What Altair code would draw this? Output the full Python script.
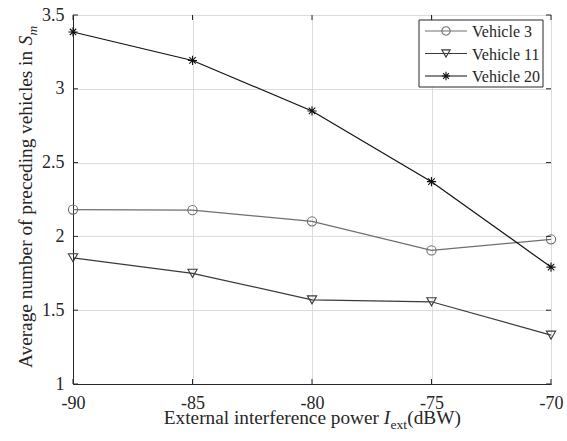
import altair as alt
import pandas as pd

# Data
power = [-90, -85, -80, -75, -70]
series_names = ["Vehicle 3", "Vehicle 11", "Vehicle 20"]
vehicle3 = [2.182, 2.178, 2.102, 1.905, 1.980]
vehicle11 = [1.855, 1.750, 1.570, 1.557, 1.331]
vehicle20 = [3.385, 3.192, 2.850, 2.371, 1.792]
series_values = [vehicle3, vehicle11, vehicle20]

x_ticks = [-90, -85, -80, -75, -70]
y_ticks = [1, 1.5, 2, 2.5, 3, 3.5]

# Styles
FONT = "Liberation Serif"
AX = "#262626"
GRID = "#dcdcdc"
colors = ["#6e6e6e", "#3a3a3a", "#111111"]
ASTERISK = "M0,-1L0,1M-1,0L1,0M-0.7,-0.7L0.7,0.7M-0.7,0.7L0.7,-0.7"
shapes = ["circle", "triangle-down", ASTERISK]
W, H = 478, 369
TICK_FS, TITLE_FS, SUB_FS, LEG_FS = 18, 19.3, 13.5, 16

rows = []
for name, vals in zip(series_names, series_values):
    for p, v in zip(power, vals):
        rows.append({"power": p, "value": v, "series": name})
df = pd.DataFrame(rows)

xs = alt.Scale(domain=[-90, -70], nice=False, zero=False)
ys = alt.Scale(domain=[1, 3.5], nice=False, zero=False)

base_x = alt.X(
    "power:Q", scale=xs,
    axis=alt.Axis(values=x_ticks, title=None, ticks=False, labelPadding=10,
                  grid=True, gridColor=GRID, labelFont=FONT, labelFontSize=TICK_FS,
                  labelColor=AX, domainColor=AX, labelFlush=False,
                  labelExpr="'' + datum.value"),
)
base_y = alt.Y(
    "value:Q", scale=ys,
    axis=alt.Axis(values=y_ticks, title=None, ticks=False, labelPadding=9,
                  grid=True, gridColor=GRID, labelFont=FONT, labelFontSize=TICK_FS,
                  labelColor=AX, domainColor=AX, labelFlush=False,
                  labelExpr="'' + datum.value"),
)

layers = []
for name, col, shp in zip(series_names, colors, shapes):
    sub = df[df.series == name]
    layers.append(
        alt.Chart(sub).mark_line(color=col, strokeWidth=1.2).encode(x=base_x, y=base_y)
    )
    layers.append(
        alt.Chart(sub).mark_point(shape=shp, size=85, filled=False, color=col,
                                  strokeWidth=1.1, opacity=1).encode(x="power:Q", y="value:Q")
    )

# Inward tick marks on all four sides of the box
ydf = pd.DataFrame({"value": y_ticks})
xdf = pd.DataFrame({"power": x_ticks})
tick_style = dict(color=AX, strokeWidth=1)
layers += [
    alt.Chart(ydf).mark_rule(**tick_style).encode(y="value:Q", x=alt.value(0), x2=alt.value(5)),
    alt.Chart(ydf).mark_rule(**tick_style).encode(y="value:Q", x=alt.value(W - 5), x2=alt.value(W)),
    alt.Chart(xdf).mark_rule(**tick_style).encode(x="power:Q", y=alt.value(H - 5), y2=alt.value(H)),
    alt.Chart(xdf).mark_rule(**tick_style).encode(x="power:Q", y=alt.value(0), y2=alt.value(5)),
]

# Legend box
one = pd.DataFrame({"k": [0]})
layers.append(
    alt.Chart(one).mark_rect(fill="white", stroke=AX, strokeWidth=1).encode(
        x=alt.value(346), x2=alt.value(470), y=alt.value(5), y2=alt.value(72))
)
for i, (name, col, shp) in enumerate(zip(series_names, colors, shapes)):
    ry = 16 + i * 22.5
    layers.append(alt.Chart(one).mark_rule(color=col, strokeWidth=1.2).encode(
        x=alt.value(352), x2=alt.value(394), y=alt.value(ry)))
    layers.append(alt.Chart(one).mark_point(shape=shp, size=70, filled=False, color=col,
                                            strokeWidth=1.1, opacity=1).encode(
        x=alt.value(373), y=alt.value(ry)))
    layers.append(alt.Chart(one).mark_text(text=name, font=FONT, fontSize=LEG_FS, color=AX,
                                           align="left", baseline="middle").encode(
        x=alt.value(399), y=alt.value(ry + 1)))

# Axis titles with italic symbols and subscripts
def txt(s, x, y, size=TITLE_FS, style="normal", align="left", angle=0):
    return alt.Chart(one).mark_text(text=s, font=FONT, fontSize=size, fontStyle=style,
                                    color=AX, align=align, baseline="alphabetic",
                                    angle=angle).encode(x=alt.value(x), y=alt.value(y))

layers += [
    txt("External interference power", 306, 409, align="right"),
    txt("I", 310.8, 409, style="italic"),
    txt("ext", 317.5, 414, size=SUB_FS),
    txt("(dBW)", 334.3, 409),
    txt("Average number of preceding vehicles in", -41, 353, angle=270),
    txt("S", -41, 30.2, style="italic", angle=270),
    txt("m", -36, 20.5, size=SUB_FS, style="italic", angle=270),
]

chart = alt.layer(*layers).properties(
    width=W, height=H,
    autosize=alt.AutoSizeParams(type="none"),
    padding={"left": 73, "top": 15, "right": 16, "bottom": 57},
    background="white",
).configure_view(stroke=AX, strokeWidth=1)

chart.save("out.html", embed_options={"renderer": "svg", "actions": False})
